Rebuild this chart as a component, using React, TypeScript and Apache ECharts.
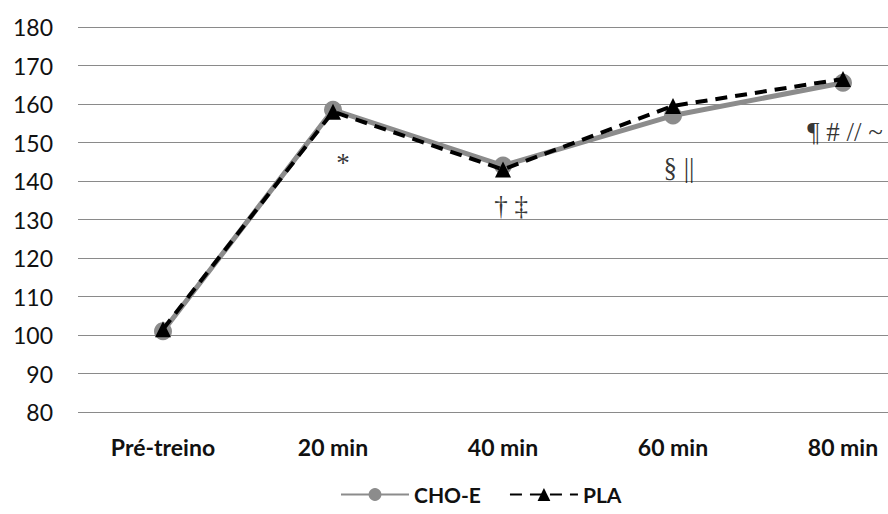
import React, { useEffect, useRef } from "react";
import * as echarts from "echarts";

const categories = ["Pré-treino", "20 min", "40 min", "60 min", "80 min"];
const choE = [101, 158.5, 144, 157, 165.5];
const pla = [101.5, 158, 143, 159.5, 166.5];
const annotations: [string, number, string][] = [
  ["20 min", 144.7, "*"],
  ["40 min", 133.5, "† ‡"],
  ["60 min", 143.4, "§ ||"],
  ["80 min", 152.7, "¶ # // ~"],
];
const annotOffsets = [10, 8, 6, 2];
const yMin = 80;
const yMax = 180;
const yStep = 10;

export default function App() {
  const ref = useRef<HTMLDivElement>(null);
  useEffect(() => {
    if (!ref.current) return;
    const chart = echarts.init(ref.current, null, { renderer: "svg" });
    chart.setOption({
      animation: false,
      backgroundColor: "#ffffff",
      grid: { left: 78, top: 27, width: 850, height: 385, outerBoundsMode: "none", containLabel: false },
      xAxis: {
        type: "category",
        data: categories,
        boundaryGap: true,
        axisLine: { show: false },
        axisTick: { show: false },
        axisLabel: {
          margin: 23,
          color: "#111",
          fontFamily: "Lato",
          fontWeight: "bold",
          fontSize: 23,
        },
      },
      yAxis: {
        type: "value",
        min: yMin,
        max: yMax,
        interval: yStep,
        axisLine: { show: false },
        axisTick: { show: false },
        axisLabel: {
          margin: 25,
          color: "#111",
          fontFamily: "Lato",
          fontSize: 23,
        },
        splitLine: { lineStyle: { color: "#8a8a8a", width: 1 } },
      },
      legend: {
        bottom: 4,
        left: 335,
        itemWidth: 68,
        itemHeight: 16,
        itemGap: 28,
        textStyle: { fontFamily: "Lato", fontWeight: "bold", fontSize: 21, color: "#111" },
        data: ["CHO-E", "PLA"],
      },
      series: [
        {
          name: "CHO-E",
          type: "line",
          data: choE,
          symbol: "circle",
          symbolSize: 18,
          itemStyle: { color: "#8c8c8c" },
          lineStyle: { color: "#8c8c8c", width: 5 },
          z: 2,
        },
        {
          name: "PLA",
          type: "line",
          data: pla,
          symbol: "triangle",
          symbolSize: 16,
          itemStyle: { color: "#000" },
          lineStyle: { color: "#000", width: 4, type: [12, 8] },
          z: 3,
        },
        {
          name: "annot",
          type: "scatter",
          data: annotations.map((a, i) => ({
            value: [a[0], a[1]],
            label: { offset: [annotOffsets[i], 0], formatter: a[2] },
          })),
          symbolSize: 1,
          itemStyle: { color: "rgba(0,0,0,0)" },
          silent: true,
          label: {
            show: true,
            position: "inside",
            fontFamily: "Liberation Serif",
            fontSize: 27,
            color: "#000",
            textBorderWidth: 0,
          },
          z: 4,
        },
      ],
    });
    return () => chart.dispose();
  }, []);
  return <div ref={ref} style={{ width: 888, height: 514, position: "absolute", left: 0, top: 0 }} />;
}
